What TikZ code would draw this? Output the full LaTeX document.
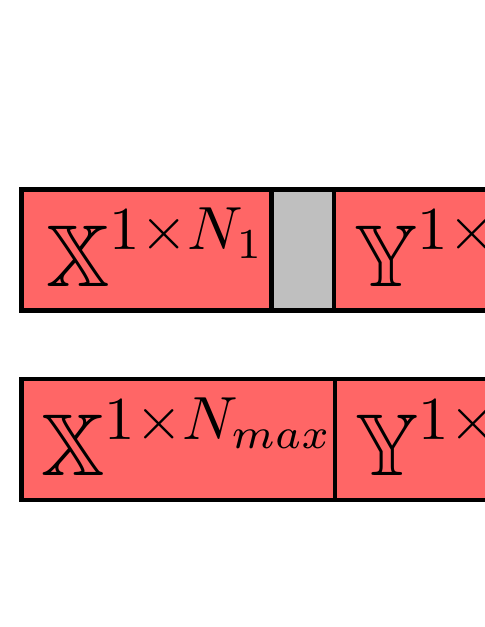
\documentclass[tikz,border=0pt]{standalone}
\usepackage{amsmath}
\usepackage{amssymb}
\usetikzlibrary{positioning}
\begin{document}
\begin{tikzpicture}[node distance=0pt, auto, every node/.style={font=\Large}]
    \tikzstyle{block} = [rectangle, draw=black, fill=red!60, line width=0.74pt, minimum height=19.84pt, inner sep=0pt, outer sep=0pt, execute at begin node={\hspace*{3.3pt}\rule[-1pt]{0pt}{1pt}}]
    \tikzstyle{spacer} = [rectangle, draw=black, fill=lightgray, line width=0.74pt, minimum height=19.84pt, minimum width=10.25pt, inner sep=0pt, outer sep=0pt]

    \useasboundingbox (0,0) rectangle (79.54pt,102.83pt);
    \clip (0,0) rectangle (79.54pt,102.83pt);

    \node [block, minimum width=41.07pt, anchor=west] (xa) at (3.49pt,61.8pt) {$\displaystyle\mathbb{X}^{1\times N_1}$};
    \node [spacer, right=of xa] (pad) {};
    \node [block, minimum width=37.9pt, right=of pad] (ya) {$\displaystyle\mathbb{Y}^{1\times N_1}$};

    \node [block, minimum width=51.23pt, anchor=west] (xb) at (3.49pt,30.73pt) {$\displaystyle\mathbb{X}^{1\times N_{max}}$};
    \node [block, minimum width=51.23pt, right=of xb] (yb) {$\displaystyle\mathbb{Y}^{1\times N_{max}}$};
\end{tikzpicture}
\end{document}
